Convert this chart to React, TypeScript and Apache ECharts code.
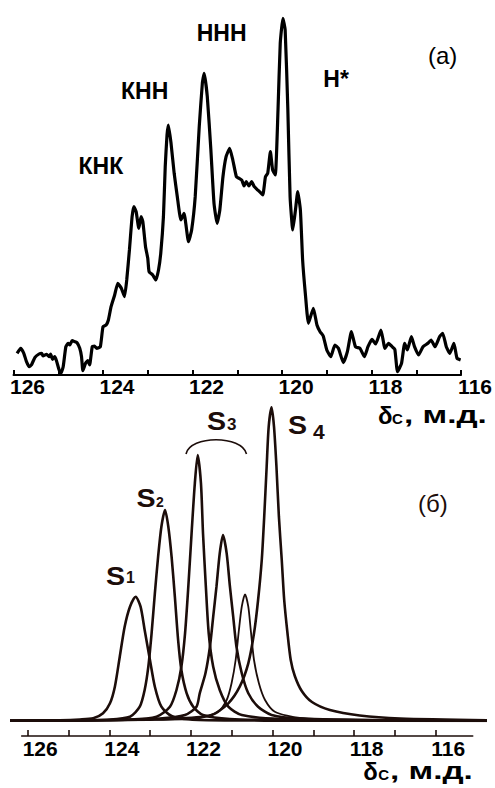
import React, { useEffect, useRef } from "react";
import * as echarts from "echarts";

// ---- data (ppm, intensity) ----
// (а) experimental spectrum
const spectrumA: [number, number][] = [
  [125.92,21.7],[125.84,26.7],[125.77,21.7],[125.71,13.3],[125.65,8.3],[125.60,10],[125.52,17.7],[125.43,21],[125.37,21.7],[125.34,19],[125.26,20.7],[125.20,18.3],[125.17,21],[125.13,15.7],[125.08,18.3],[125.04,14.3],[124.98,5],[124.94,1.7],[124.89,8.3],[124.83,28.3],[124.78,31.7],[124.74,30],[124.69,34.3],[124.63,33.3],[124.58,32.3],[124.52,26.7],[124.48,18.3],[124.45,4.3],[124.39,11.7],[124.34,14.3],[124.30,10],[124.24,28.3],[124.19,29],[124.14,26.7],[124.06,28.3],[124.00,48.3],[123.93,50],[123.88,55],[123.82,68.3],[123.74,80],[123.67,91.7],[123.59,86.7],[123.52,78.3],[123.47,95],[123.41,125],[123.35,158.3],[123.31,168.3],[123.26,163.3],[123.20,146.7],[123.15,158.3],[123.11,153.3],[123.05,128.3],[123.00,116.7],[122.97,103.3],[122.89,100],[122.82,95],[122.76,105],[122.71,121.7],[122.65,158.3],[122.61,208.3],[122.57,240],[122.54,250],[122.48,231.7],[122.41,201.7],[122.34,178.3],[122.26,155],[122.19,161.7],[122.09,133.3],[122.02,145],[121.94,178.3],[121.85,248.3],[121.78,292],[121.74,301.7],[121.67,278.3],[121.59,225],[121.52,171.7],[121.45,151.7],[121.39,165],[121.32,198.3],[121.25,218.3],[121.17,226.7],[121.10,215],[121.02,198.3],[120.96,196.7],[120.90,195],[120.85,189],[120.80,193.3],[120.74,189],[120.68,193.3],[120.62,188.3],[120.56,185.7],[120.48,182.3],[120.43,180],[120.37,198.3],[120.32,201.7],[120.26,223.3],[120.21,205],[120.15,200],[120.09,265],[120.04,331.7],[119.98,356.7],[119.93,345],[119.87,265],[119.82,178.3],[119.76,145],[119.70,165],[119.65,183.3],[119.59,165],[119.54,115],[119.48,81.7],[119.41,51.7],[119.30,66.7],[119.22,50],[119.15,43.3],[119.08,39],[119.00,25],[118.91,18.3],[118.82,30],[118.74,26.7],[118.63,12.3],[118.54,23.3],[118.45,43.3],[118.36,28.3],[118.26,26.7],[118.16,18.3],[118.08,28.3],[117.99,35.7],[117.91,31],[117.79,45],[117.70,26.7],[117.62,31.7],[117.54,28.3],[117.48,25.7],[117.42,3.3],[117.33,11.7],[117.26,31.7],[117.20,25],[117.11,38.3],[117.04,28.3],[116.95,20],[116.85,28.3],[116.74,31.7],[116.67,35],[116.58,28.3],[116.48,38.3],[116.41,41.7],[116.33,28.3],[116.25,21.7],[116.16,31.7],[116.09,16.7],[116.01,15]
];

// (б) deconvoluted components
const peakS1: [number, number][] = [
  [126.43,0.3],[125.21,0.8],[124.72,1.5],[124.39,2.7],[124.15,7.7],[123.98,17.7],[123.86,34.3],[123.74,64.3],[123.62,94.3],[123.49,114.3],[123.35,124.3],[123.23,114.3],[123.13,91],[123.00,61],[122.88,34.3],[122.72,14.3],[122.47,5],[122.02,1.5],[121.04,0.6],[119.33,0.3],[114.74,0.1]
];
const peakS2: [number, number][] = [
  [126.43,0.2],[125.21,0.5],[123.98,1.5],[123.49,4.3],[123.25,14.3],[123.13,31],[123.04,54.3],[122.96,87.7],[122.88,127.7],[122.80,164.3],[122.72,194.3],[122.63,211],[122.55,194.3],[122.47,164.3],[122.39,124.3],[122.31,81],[122.23,51],[122.10,27.7],[121.94,14.3],[121.70,6],[121.04,2],[119.33,0.7],[114.74,0.2]
];
const peakS3a: [number, number][] = [
  [126.43,0.2],[125.21,0.5],[123.49,1.5],[122.84,4.3],[122.51,14.3],[122.35,31],[122.23,54.3],[122.14,87.7],[122.06,134.3],[121.98,187.7],[121.90,237.7],[121.83,266],[121.75,237.7],[121.70,187.7],[121.63,134.3],[121.56,87.7],[121.45,54.3],[121.29,31],[121.08,14.3],[120.75,6],[119.82,2],[116.87,0.5],[114.74,0.2]
];
const peakS3b: [number, number][] = [
  [126.43,0.2],[124.23,0.7],[122.76,2.5],[122.14,6],[121.86,14.3],[121.78,27.7],[121.64,47.7],[121.53,74.3],[121.45,104.3],[121.37,134.3],[121.29,167.7],[121.21,186],[121.12,167.7],[121.04,134.3],[120.96,104.3],[120.88,74.3],[120.75,47.7],[120.59,27.7],[120.35,14.3],[120.02,6],[119.33,2.5],[116.87,0.7],[114.74,0.3]
];
const peakS3c: [number, number][] = [
  [126.43,0.1],[125.21,0.3],[123.00,1],[121.78,3],[121.33,9.3],[121.12,21],[121.00,37.7],[120.90,61],[120.82,91],[120.75,114.3],[120.67,126.7],[120.59,114.3],[120.53,91],[120.45,61],[120.33,37.7],[120.18,21],[119.94,9.3],[119.33,3],[117.86,1],[114.74,0.3]
];
const peakS4: [number, number][] = [
  [126.43,0.3],[123.74,1],[122.27,2.5],[121.49,6],[121.08,17.7],[120.80,34.3],[120.59,57.7],[120.45,87.7],[120.35,121],[120.26,161],[120.20,204.3],[120.14,254.3],[120.09,294.3],[120.02,313.7],[119.96,294.3],[119.90,254.3],[119.84,204.3],[119.77,161],[119.71,121],[119.63,88],[119.55,61],[119.45,45],[119.28,30],[119.03,19],[118.59,11],[117.86,5.5],[116.87,2.5],[114.74,0.8]
];

const tickLabels = [126, 124, 122, 120, 118, 116];

const FONT = '"Liberation Sans", Arial, Helvetica, sans-serif';
const INK = "#000000";
const INK_B = "#1c0d0a";

function txt(text: string, x: number, y: number, size: number, weight: string, scaleX = 1, fill = INK) {
  return {
    type: "text",
    x,
    y,
    scaleX,
    silent: true,
    style: {
      text,
      fill,
      font: `${weight} ${size}px ${FONT}`,
      align: "left",
      verticalAlign: "middle",
      textAlign: "left",
      textVerticalAlign: "middle",
    },
  };
}

const labelFormatter = (v: number) => {
  const r = Math.round(v);
  return tickLabels.includes(r) ? String(r) : "";
};

export default function App() {
  const ref = useRef<HTMLDivElement>(null);
  useEffect(() => {
    if (!ref.current) return;
    const chart = echarts.init(ref.current, undefined, { renderer: "svg" });
    const hiddenY = (gridIndex: number, max: number) => ({
      gridIndex, type: "value", min: 0, max, show: false, splitLine: { show: false },
    });
    const curve = (data: [number, number][], width: number) => ({
      type: "line",
      xAxisIndex: 1,
      yAxisIndex: 1,
      data,
      symbol: "none",
      showSymbol: false,
      smooth: 0.25,
      silent: true,
      lineStyle: { color: INK_B, width },
    });
    chart.setOption({
      animation: false,
      backgroundColor: "#ffffff",
      grid: [
        { left: 13.5, right: 31.7, top: 15, bottom: 413 },
        { left: 10, right: 8, top: 400, bottom: 67 },
        { left: 21.7, right: 22.3, top: 700, bottom: 52 },
        { left: 27.7, right: 59.3, top: 700, bottom: 52 },
      ],
      xAxis: [
        {
          gridIndex: 0, type: "value", min: 116, max: 126, interval: 1, inverse: true,
          axisLine: { show: true, onZero: false, lineStyle: { color: INK, width: 2 } },
          axisTick: { show: true, inside: true, length: 5, lineStyle: { color: INK, width: 2 } },
          axisLabel: {
            show: true, margin: 1, padding: [0, 0, 0, 28], color: INK, fontSize: 21,
            fontWeight: "bold", fontFamily: FONT, formatter: labelFormatter,
          },
          splitLine: { show: false },
        },
        {
          gridIndex: 1, type: "value", min: 114.74, max: 126.43, inverse: true, show: false,
          splitLine: { show: false },
        },
        {
          gridIndex: 2, type: "value", min: 115.1, max: 126.15, inverse: true,
          axisLine: { show: true, onZero: false, lineStyle: { color: INK_B, width: 1.6 } },
          axisTick: { show: false }, axisLabel: { show: false }, splitLine: { show: false },
        },
        {
          gridIndex: 3, type: "value", min: 116, max: 126, interval: 1, inverse: true,
          axisLine: { show: false, onZero: false },
          axisTick: { show: true, inside: true, length: 6, lineStyle: { color: INK_B, width: 1.6 } },
          axisLabel: {
            show: true, margin: 2, padding: [0, 0, 0, 25], color: INK, fontSize: 21,
            fontWeight: "bold", fontFamily: FONT, formatter: labelFormatter,
          },
          splitLine: { show: false },
        },
      ],
      yAxis: [hiddenY(0, 360), hiddenY(1, 321), hiddenY(2, 1), hiddenY(3, 1)],
      series: [
        {
          type: "line", xAxisIndex: 0, yAxisIndex: 0, data: spectrumA,
          symbol: "none", showSymbol: false, smooth: 0.15, silent: true,
          lineStyle: { color: INK, width: 3.2 },
        },
        curve(peakS1, 2.6),
        curve(peakS2, 2.6),
        curve(peakS3a, 2.6),
        curve(peakS3b, 2.6),
        curve(peakS3c, 1.8),
        curve(peakS4, 2.6),
      ],
      graphic: [
        // panel (а)
        txt("КНК", 78.5, 165.5, 23, "bold"),
        txt("КНН", 121, 91.3, 23, "bold"),
        txt("ННН", 196.7, 33, 23, "bold"),
        txt("Н*", 323.3, 79, 23, "bold"),
        txt("(а)", 428, 55, 24, "normal"),
        txt("δ", 378, 415, 24, "bold"),
        txt("C", 392, 418.4, 15, "bold"),
        txt(", м.д.", 404, 415.3, 23, "bold", 1.45),
        // panel (б)
        txt("S", 106, 575.5, 26, "bold", 1.1, INK_B),
        txt("1", 126, 577.5, 16, "bold", 1, INK_B),
        txt("S", 136.5, 497.5, 26, "bold", 1.1, INK_B),
        txt("2", 156, 501.7, 14, "bold", 1, INK_B),
        txt("S", 207, 421, 26, "bold", 1.1, INK_B),
        txt("3", 227, 424.4, 17, "bold", 1, INK_B),
        txt("S", 288, 425, 26, "bold", 1.1, INK_B),
        txt("4", 313, 431, 21, "bold", 1, INK_B),
        txt("(б)", 418, 503.5, 24, "normal", 1, INK_B),
        {
          type: "bezierCurve",
          silent: true,
          shape: { x1: 186, y1: 454, cpx1: 190, cpy1: 435, cpx2: 242, cpy2: 435, x2: 246.5, y2: 454 },
          style: { stroke: INK_B, lineWidth: 1.6, fill: null },
        },
        txt("δ", 363.3, 771, 24, "bold"),
        txt("C", 378.3, 774.4, 15, "bold"),
        txt(", м.д.", 390, 771.3, 23, "bold", 1.45),
      ],
    });
    return () => chart.dispose();
  }, []);
  return (
    <div
      ref={ref}
      style={{ position: "absolute", left: 0, top: 0, width: 495, height: 788, background: "#fff" }}
    />
  );
}
